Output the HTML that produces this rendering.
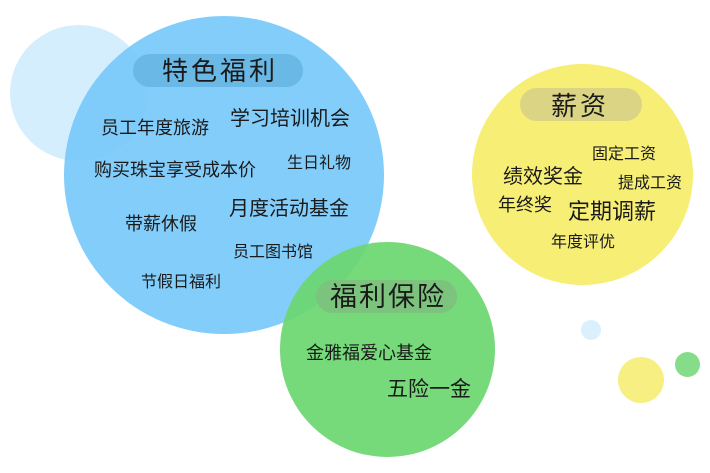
<!DOCTYPE html>
<html><head><meta charset="utf-8"><style>
html,body{margin:0;padding:0;background:#fff;}
#c{position:relative;width:710px;height:473px;overflow:hidden;font-family:"Liberation Sans","Noto Sans CJK SC",sans-serif;color:#1a1a1a;}
.o{position:absolute;border-radius:50%;}
.p{position:absolute;border-radius:17px;}
.t{position:absolute;white-space:nowrap;line-height:1;margin-top:2px;}
</style></head><body><div id="c">
<div class="o" style="left:10px;top:25px;width:138px;height:136px;background:#d4eefd;"></div>
<div class="o" style="left:64px;top:16px;width:320px;height:318px;background:rgba(120,201,250,0.93);"></div>
<div class="o" style="left:472px;top:64px;width:221px;height:221px;background:#f7ee75;"></div>
<div class="o" style="left:280px;top:242px;width:215px;height:215px;background:rgba(108,214,112,0.93);"></div>
<div class="o" style="left:581px;top:320px;width:20px;height:20px;background:#dbf0fd;"></div>
<div class="o" style="left:618px;top:357px;width:46px;height:46px;background:#f7ef82;"></div>
<div class="o" style="left:675px;top:352px;width:25px;height:25px;background:#86dd89;"></div>

<div class="p" style="left:133px;top:54px;width:170px;height:33px;background:#6ab8e6;"></div>
<div class="p" style="left:520px;top:88px;width:122px;height:33px;background:#dbd485;"></div>
<div class="p" style="left:316px;top:280px;width:141px;height:33px;background:#7cc47d;"></div>

<div class="t" style="left:162px;top:56px;font-size:26px;letter-spacing:3px;">特色福利</div>
<div class="t" style="left:101px;top:117px;font-size:18px;">员工年度旅游</div>
<div class="t" style="left:230px;top:107px;font-size:20px;">学习培训机会</div>
<div class="t" style="left:94px;top:159px;font-size:18px;">购买珠宝享受成本价</div>
<div class="t" style="left:287px;top:154px;font-size:16px;">生日礼物</div>
<div class="t" style="left:229px;top:197px;font-size:20px;">月度活动基金</div>
<div class="t" style="left:125px;top:213px;font-size:18px;">带薪休假</div>
<div class="t" style="left:233px;top:243px;font-size:16px;">员工图书馆</div>
<div class="t" style="left:141px;top:273px;font-size:16px;">节假日福利</div>

<div class="t" style="left:551px;top:91px;font-size:26px;letter-spacing:3px;">薪资</div>
<div class="t" style="left:592px;top:145px;font-size:16px;">固定工资</div>
<div class="t" style="left:503px;top:165px;font-size:20px;">绩效奖金</div>
<div class="t" style="left:618px;top:174px;font-size:16px;">提成工资</div>
<div class="t" style="left:498px;top:194px;font-size:18px;">年终奖</div>
<div class="t" style="left:568px;top:199px;font-size:22px;">定期调薪</div>
<div class="t" style="left:551px;top:233px;font-size:16px;">年度评优</div>

<div class="t" style="left:330px;top:282px;font-size:27px;letter-spacing:2px;">福利保险</div>
<div class="t" style="left:306px;top:342px;font-size:18px;">金雅福爱心基金</div>
<div class="t" style="left:387px;top:377px;font-size:21px;">五险一金</div>
</div></body></html>
